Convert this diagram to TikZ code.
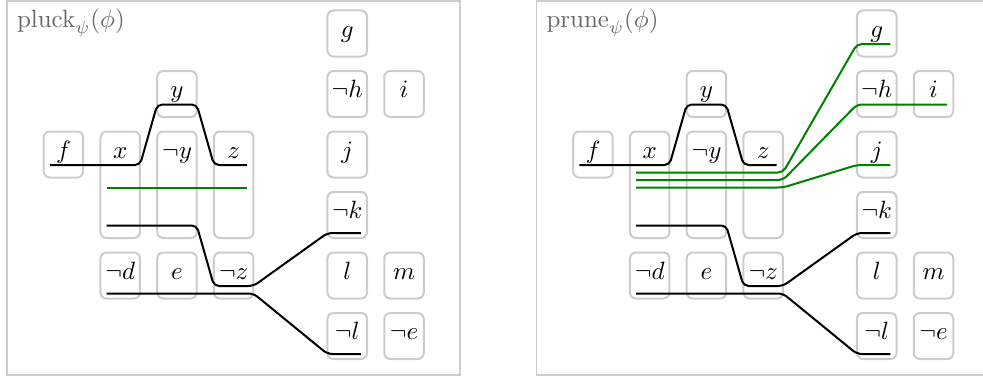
\documentclass[tikz,border=0pt]{standalone}
\usetikzlibrary{positioning}

\tikzset{
    cellbox/.style={draw=black!20, line width=0.8pt, rounded corners=2.4pt,
        minimum width=15.8pt, minimum height=18.4pt, inner sep=0pt, outer sep=0pt},
    tallbox/.style={cellbox, minimum height=42.6pt},
    tag/.style={anchor=base, yshift=-10.7pt, inner sep=0pt},
    panel/.style={draw=black!20, line width=0.5pt},
    heading/.style={anchor=base west, inner sep=0pt, text=black!60},
    wire/.style={line width=0.8pt, rounded corners=2pt},
    kept/.style={wire, draw=green!50!black},
    lvA/.style={yshift=-13.4pt}, lvB/.style={yshift=-16.4pt},
    lvC/.style={yshift=-19.4pt}, lvD/.style={yshift=-22.4pt},
    lvE/.style={yshift=-37.6pt},
    inl/.style={xshift=2.5pt}, inr/.style={xshift=-2.5pt},
}

\begin{document}
\begin{tikzpicture}[x=0.4pt, y=-0.4pt, node distance=5.8pt and 6.9pt]
    \useasboundingbox (0,0) rectangle (983,380);
    % pluck
    \draw[panel] (7,1) rectangle (460,375);
    \node[heading] (pluck) at (16.5,27) {$\mathrm{pluck}_\psi(\phi)$};
    \node[cellbox, label={[tag]north:$g$}] (g) at (347.25,33.5) {};
    \node[cellbox, below=of g, label={[tag]north:$\neg h$}] (nh) {};
    \node[cellbox, right=of nh, label={[tag]north:$i$}] (i) {};
    \node[cellbox, below=of nh, label={[tag]north:$j$}] (j) {};
    \node[cellbox, below=of j, label={[tag]north:$\neg k$}] (nk) {};
    \node[cellbox, below=of nk, label={[tag]north:$l$}] (l) {};
    \node[cellbox, right=of l, label={[tag]north:$m$}] (m) {};
    \node[cellbox, below=of l, label={[tag]north:$\neg l$}] (nl) {};
    \node[cellbox, right=of nl, label={[tag]north:$\neg e$}] (ne) {};
    \node[cellbox, left=29.6pt of l, label={[tag]north:$\neg z$}] (nz) {};
    \node[cellbox, left=of nz, label={[tag]north:$e$}] (e) {};
    \node[cellbox, left=of e, label={[tag]north:$\neg d$}] (nd) {};
    \node[tallbox, above=of nz, label={[tag]north:$z$}] (z) {};
    \node[tallbox, left=of z, label={[tag]north:$\neg y$}] (ny) {};
    \node[tallbox, left=of ny, label={[tag]north:$x$}] (x) {};
    \node[cellbox, above=of ny, label={[tag]north:$y$}] (y) {};
    \node[cellbox, left=of x.north west, anchor=north east, label={[tag]north:$f$}] (f) {};
    \draw[wire] ([lvA, inl]f.north west) -- ([lvA]x.north east) -- ([lvA]y.north west)
        -- ([lvA]y.north east) -- ([lvA]z.north west) -- ([lvA, inr]z.north east);
    \draw[wire] ([lvE, inl]x.north west) -- ([lvE]ny.north east) -- ([lvA]nz.north west)
        -- ([lvA]nz.north east) -- ([lvB]nk.north west) -- ([lvB, inr]nk.north east);
    \draw[wire] ([lvB, inl]nd.north west) -- ([lvB]nz.north east) -- ([lvB]nl.north west)
        -- ([lvB, inr]nl.north east);
    \draw[kept] ([lvD, inl]x.north west) -- ([lvD, inr]z.north east);
    % prune
    \begin{scope}[shift={(529.5,0)}, name prefix=R-]
        \draw[panel] (7,1) rectangle (460,375);
        \node[heading] (prune) at (16.5,27) {$\mathrm{prune}_\psi(\phi)$};
        \node[cellbox, label={[tag]north:$g$}] (g) at (347.25,33.5) {};
        \node[cellbox, below=of g, label={[tag]north:$\neg h$}] (nh) {};
        \node[cellbox, right=of nh, label={[tag]north:$i$}] (i) {};
        \node[cellbox, below=of nh, label={[tag]north:$j$}] (j) {};
        \node[cellbox, below=of j, label={[tag]north:$\neg k$}] (nk) {};
        \node[cellbox, below=of nk, label={[tag]north:$l$}] (l) {};
        \node[cellbox, right=of l, label={[tag]north:$m$}] (m) {};
        \node[cellbox, below=of l, label={[tag]north:$\neg l$}] (nl) {};
        \node[cellbox, right=of nl, label={[tag]north:$\neg e$}] (ne) {};
        \node[cellbox, left=29.6pt of l, label={[tag]north:$\neg z$}] (nz) {};
        \node[cellbox, left=of nz, label={[tag]north:$e$}] (e) {};
        \node[cellbox, left=of e, label={[tag]north:$\neg d$}] (nd) {};
        \node[tallbox, above=of nz, label={[tag]north:$z$}] (z) {};
        \node[tallbox, left=of z, label={[tag]north:$\neg y$}] (ny) {};
        \node[tallbox, left=of ny, label={[tag]north:$x$}] (x) {};
        \node[cellbox, above=of ny, label={[tag]north:$y$}] (y) {};
        \node[cellbox, left=of x.north west, anchor=north east, label={[tag]north:$f$}] (f) {};
        \draw[wire] ([lvA, inl]f.north west) -- ([lvA]x.north east) -- ([lvA]y.north west)
            -- ([lvA]y.north east) -- ([lvA]z.north west) -- ([lvA, inr]z.north east);
        \draw[wire] ([lvE, inl]x.north west) -- ([lvE]ny.north east) -- ([lvA]nz.north west)
            -- ([lvA]nz.north east) -- ([lvB]nk.north west) -- ([lvB, inr]nk.north east);
        \draw[wire] ([lvB, inl]nd.north west) -- ([lvB]nz.north east) -- ([lvB]nl.north west)
            -- ([lvB, inr]nl.north east);
        \draw[kept] ([lvB, inl]x.north west) -- ([lvB]z.north east) -- ([lvA]g.north west)
            -- ([lvA, inr]g.north east);
        \draw[kept] ([lvC, inl]x.north west) -- ([lvC]z.north east) -- ([lvA]nh.north west)
            -- ([lvA, inr]i.north east);
        \draw[kept] ([lvD, inl]x.north west) -- ([lvD]z.north east) -- ([lvA]j.north west)
            -- ([lvA, inr]j.north east);
    \end{scope}
\end{tikzpicture}
\end{document}
